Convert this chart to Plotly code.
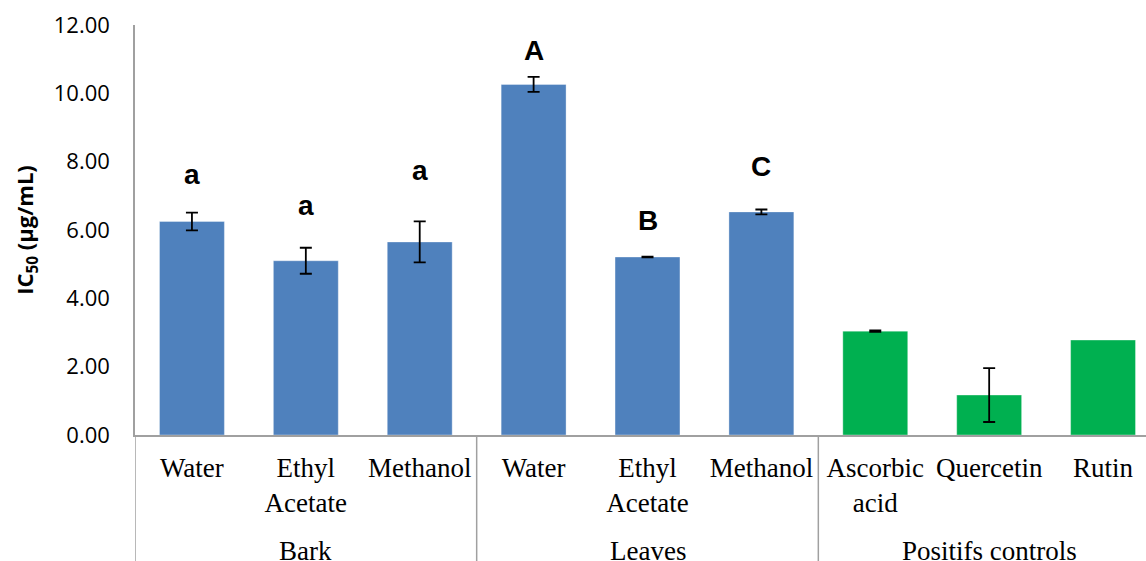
import plotly.graph_objects as go

# ---- data ----
categories = ["Water", "Ethyl<br>Acetate", "Methanol",
              "Water", "Ethyl<br>Acetate", "Methanol",
              "Ascorbic<br>acid", "Quercetin", "Rutin"]
groups = ["Bark", "Leaves", "Positifs controls"]
ic50 = [6.25, 5.10, 5.65, 10.26, 5.21, 6.53, 3.04, 1.17, 2.78]
ic50_err = [0.26, 0.38, 0.60, 0.22, 0.01, 0.07, 0.02, 0.79, None]  # Rutin: no error bar
bar_colors = ["#4F81BD"] * 6 + ["#00B050"] * 3
sig_letters = ["a", "a", "a", "A", "B", "C"]
sig_heights = [7.63, 6.72, 7.73, 11.24, 6.27, 7.87]
yticks = [0, 2, 4, 6, 8, 10, 12]

xpos = list(range(len(categories)))
has_err = [i for i, e in enumerate(ic50_err) if e is not None]
no_err = [i for i, e in enumerate(ic50_err) if e is None]

fig = go.Figure()
fig.add_trace(go.Bar(
    x=[xpos[i] for i in has_err], y=[ic50[i] for i in has_err], width=0.57,
    marker=dict(color=[bar_colors[i] for i in has_err],
                line=dict(color="rgba(255,255,255,0.35)", width=1)),
    error_y=dict(type="data", array=[ic50_err[i] for i in has_err], visible=True,
                 color="black", thickness=1.8, width=6),
    showlegend=False,
))
fig.add_trace(go.Bar(
    x=[xpos[i] for i in no_err], y=[ic50[i] for i in no_err], width=0.57,
    marker=dict(color=[bar_colors[i] for i in no_err],
                line=dict(color="rgba(255,255,255,0.35)", width=1)),
    showlegend=False,
))

for i, (lab, h) in enumerate(zip(sig_letters, sig_heights)):
    fig.add_annotation(x=xpos[i], y=h, xref="x", yref="y", text=lab,
                       showarrow=False, yanchor="middle",
                       font=dict(family="Liberation Sans", size=28, color="black", weight="bold"))

plot_h = 561 - 25 - 126
for gi, g in enumerate(groups):
    fig.add_annotation(x=gi * 3 + 1, y=-(550.5 - 435) / plot_h, xref="x", yref="paper",
                       text=g, showarrow=False, yanchor="middle",
                       font=dict(family="Liberation Serif", size=27, color="black"))

line_col = "#A0A0A0"
for xd in [-0.5, 2.5, 5.5, 8.5]:
    fig.add_shape(type="line", xref="x", yref="paper", x0=xd, x1=xd, y0=0, y1=-0.35,
                  line=dict(color=line_col, width=1.5))

fig.update_layout(
    width=1146, height=561,
    margin=dict(l=135, r=0, t=25, b=126),
    plot_bgcolor="white", paper_bgcolor="white",
    barmode="overlay",
)
fig.update_xaxes(
    range=[-0.5, 8.5 - 14 / 113.9],
    tickmode="array", tickvals=xpos, ticktext=categories,
    tickfont=dict(family="Liberation Serif", size=27, color="black"),
    showline=True, linecolor=line_col, linewidth=1.5,
    showgrid=False, zeroline=False, ticks="", ticklabelstandoff=8,
)
fig.update_yaxes(
    range=[0, 12], tickmode="array", tickvals=yticks,
    ticktext=[f"{v:.2f}" for v in yticks],
    tickfont=dict(family="Open Sans", size=22, color="black"),
    showline=True, linecolor=line_col, linewidth=1.5,
    showgrid=False, zeroline=False, ticks="", ticklabelstandoff=19,
    title=dict(text="IC<sub>50</sub> (µg/mL)", standoff=14,
               font=dict(family="Open Sans", size=22, color="black", weight="bold")),
)

fig.write_html("out.html", config={"displayModeBar": False},
               post_script="document.body.style.margin='0px';document.body.style.overflow='hidden';")
